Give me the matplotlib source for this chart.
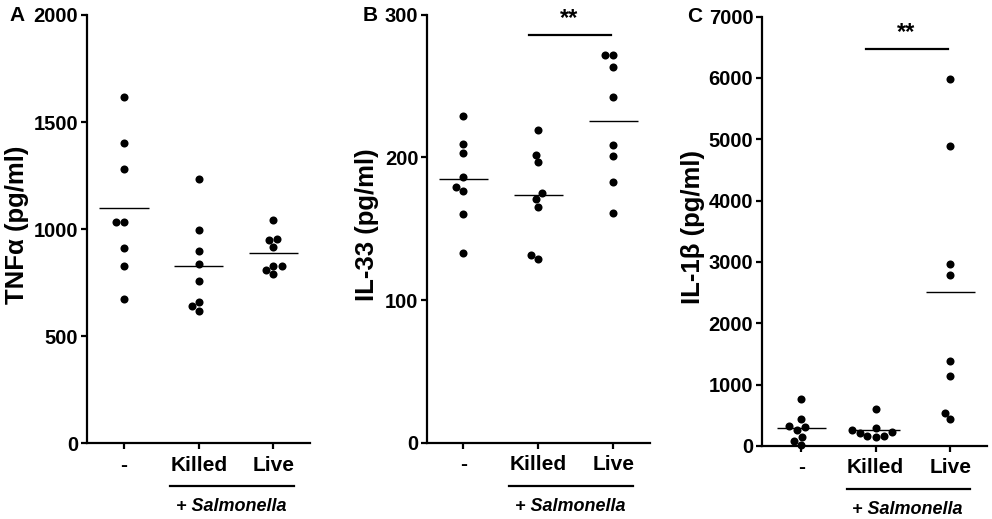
import numpy as np
import pandas as pd
import matplotlib
matplotlib.use("Agg")
import matplotlib.pyplot as plt
import matplotlib.transforms as mtransforms
import seaborn as sns

plt.rcParams["font.family"] = ["Liberation Sans", "DejaVu Sans"]
plt.rcParams["font.weight"] = "bold"

# data
groups = ["-", "Killed", "Live"]

tnf_ctrl = [1619, 1404, 1281, 1033, 1033, 909, 825, 675]
tnf_killed = [1233, 994, 897, 837, 755, 661, 618, 638]
tnf_live = [1044, 949, 954, 918, 828, 788, 808, 828]

il33_ctrl = [229, 209.5, 203, 186, 176.5, 179, 160, 133]
il33_killed = [219, 202, 196.5, 175, 171, 165.5, 131.5, 128.5]
il33_live = [272, 272, 263, 242, 209, 201, 183, 161]

il1b_ctrl = [761, 435, 326, 305, 261, 152, 86, 10]
il1b_killed = [598, 290, 225, 170, 150, 160, 215, 260]
il1b_live = [5978, 4892, 2962, 2788, 1386, 1147, 533, 435]

panels = [
    dict(letter="A", ylabel="TNFα (pg/ml)", data=[tnf_ctrl, tnf_killed, tnf_live],
         ylim=(0, 2000), yticks=[0, 500, 1000, 1500, 2000], sig=None,
         rect=[0.0874, 0.1464, 0.2251, 0.8247], xlim=(-0.5, 2.49),
         lab_x=-0.258, let_xy=(0.017, 0.971)),
    dict(letter="B", ylabel="IL-33 (pg/ml)", data=[il33_ctrl, il33_killed, il33_live],
         ylim=(0, 300), yticks=[0, 100, 200, 300], sig=(286, "**"),
         rect=[0.4301, 0.1470, 0.2251, 0.8247], xlim=(-0.49, 2.49),
         lab_x=-0.215, let_xy=(0.373, 0.971)),
    dict(letter="C", ylabel="IL-1β (pg/ml)", data=[il1b_ctrl, il1b_killed, il1b_live],
         ylim=(0, 7000), yticks=list(range(0, 7001, 1000)), sig=(6468, "**"),
         rect=[0.7678, 0.1407, 0.2268, 0.8272], xlim=(-0.53, 2.49),
         lab_x=-0.251, let_xy=(0.700, 0.968)),
]

fig = plt.figure(figsize=(9.92, 5.19), dpi=100)

for p in panels:
    ax = fig.add_axes(p["rect"])
    df = pd.DataFrame({
        "group": np.repeat(groups, [len(v) for v in p["data"]]),
        "value": np.concatenate(p["data"]),
    })
    sns.swarmplot(data=df, x="group", y="value", order=groups, color="black",
                  size=5.8, ax=ax, clip_on=False, zorder=3, linewidth=0)

    # mean lines
    for i, vals in enumerate(p["data"]):
        ax.hlines(np.mean(vals), i - 0.33, i + 0.33, color="black", lw=1.0, zorder=2)

    ax.set_xlim(*p["xlim"])
    ax.set_ylim(*p["ylim"])
    ax.set_yticks(p["yticks"])
    ax.set_xticks(range(len(groups)))
    ax.set_xticklabels(groups)
    ax.set_xlabel("")
    ax.set_ylabel(p["ylabel"], fontsize=18.5, fontweight="bold")
    ax.yaxis.set_label_coords(p["lab_x"], 0.51)

    for s in ["top", "right"]:
        ax.spines[s].set_visible(False)
    for s in ["left", "bottom"]:
        ax.spines[s].set_linewidth(1.6)
    ax.tick_params(width=1.6, length=4, labelsize=14.5, pad=2)
    ax.tick_params(axis="x", length=4, pad=5, labelsize=15)
    for lab in ax.get_xticklabels() + ax.get_yticklabels():
        lab.set_fontweight("bold")

    # "+ Salmonella" bracket under the x axis
    tr = mtransforms.blended_transform_factory(ax.transData, ax.transAxes)
    ax.plot([0.61, 2.27], [-0.101, -0.101], color="black", lw=1.6,
            transform=tr, clip_on=False)
    ax.text(1.43, -0.148, "+ Salmonella", transform=tr, ha="center", va="center",
            fontsize=13, fontweight="bold", fontstyle="italic")

    # significance bar
    if p["sig"] is not None:
        yv, star = p["sig"]
        ax.plot([0.87, 1.97], [yv, yv], color="black", lw=1.6, clip_on=False)
        ax.text(1.41, yv + (p["ylim"][1] - p["ylim"][0]) * 0.012, star,
                ha="center", va="bottom", fontsize=17, fontweight="bold")

    fig.text(p["let_xy"][0], p["let_xy"][1], p["letter"], ha="center", va="center",
             fontsize=15, fontweight="bold")

fig.savefig("out.png", dpi=100)
